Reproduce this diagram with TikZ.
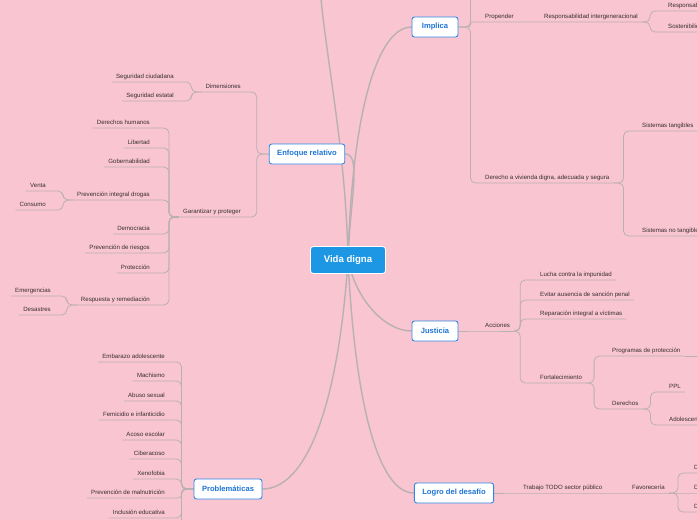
\documentclass[tikz,border=0pt]{standalone}
\usepackage{fontspec}
\setmainfont{Liberation Sans}
\definecolor{bgpink}{HTML}{F9C5D1}
\definecolor{lncol}{HTML}{B9B0B3}
\definecolor{txt}{HTML}{352E30}
\definecolor{boxblue}{HTML}{2F86E6}
\definecolor{boxtext}{HTML}{1C74D6}
\definecolor{vdblue}{HTML}{1D97E4}
\pgfdeclarelayer{back}
\pgfdeclarelayer{bg}
\pgfsetlayers{back,bg,main}
\tikzset{
  lbl/.style={font=\fontsize{6.1}{7}\selectfont, text=txt, inner xsep=4pt, inner ysep=3.2pt, text height=4.5pt, text depth=0pt},
  rc/.style={lbl, anchor=south west},
  lc/.style={lbl, anchor=south east},
  conn/.style={draw=lncol, line width=0.8pt, rounded corners=5pt},
  mconn/.style={draw=lncol, line width=1.4pt},
  box/.style={draw=boxblue, line width=0.9pt, fill=white, rounded corners=2.5pt, font=\bfseries\fontsize{7.6}{8}\selectfont, text=boxtext, minimum height=20pt, minimum width=46pt, inner xsep=8pt},
  vdbox/.style={draw=white, line width=0.8pt, fill=vdblue, rounded corners=3pt, font=\bfseries\fontsize{9.6}{10}\selectfont, text=white, minimum height=27pt, minimum width=75pt}
}
\begin{document}
\begin{tikzpicture}[x=1pt,y=-1pt]
\useasboundingbox (0,0) rectangle (697,520);
\begin{pgfonlayer}{back}
\fill[bgpink] (0,0) rectangle (697,520);
\end{pgfonlayer}

% ---------- central & main nodes
\node[vdbox] (vd) at (348,260) {Vida digna};
\node[box] (impl) at (435,27) {Implica};
\node[box] (enf) at (307,154) {Enfoque relativo};
\node[box] (jus) at (435,331) {Justicia};
\node[box] (prob) at (228,489) {Problemáticas};
\node[box] (log) at (454,493) {Logro del desafío};
\coordinate (topc) at (320,-12);

% ---------- Implica
\node[rc] (prop) at (481,22) {Propender};
\node[rc] (rint) at (540,22) {Responsabilidad intergeneracional};
\node[rc] (resp) at (664,11) {Responsabilidad};
\node[rc] (sost) at (664,32) {Sostenibilidad};
\node[rc] (viv) at (481,183) {Derecho a vivienda digna, adecuada y segura};
\node[rc] (stan) at (638,131) {Sistemas tangibles};
\node[rc] (snt) at (638,236) {Sistemas no tangibles};
\coordinate (implup) at (490,-20);

% ---------- Justicia
\node[rc] (acc) at (481,331) {Acciones};
\node[rc] (luc) at (536,280) {Lucha contra la impunidad};
\node[rc] (evi) at (536,300) {Evitar ausencia de sanción penal};
\node[rc] (rep) at (536,319) {Reparación integral a víctimas};
\node[rc] (fort) at (536,383) {Fortalecimiento};
\node[rc] (prog) at (608,356) {Programas de protección};
\node[rc] (der) at (608,409) {Derechos};
\node[rc] (ppl) at (665,392) {PPL};
\node[rc] (ado) at (665,425) {Adolescentes};
\coordinate (progr) at (720,356);

% ---------- Logro
\node[rc] (trab) at (519,493) {Trabajo TODO sector público};
\node[rc] (fav) at (628,493) {Favorecería};
\node[rc] (da) at (690,473) {D};
\node[rc] (db) at (690,493) {D};
\node[rc] (dc) at (690,512) {D};

% ---------- Enfoque relativo
\node[lc] (dim) at (245,92) {Dimensiones};
\node[lc] (sc) at (178,82) {Seguridad ciudadana};
\node[lc] (sest) at (178,101) {Seguridad estatal};
\node[lc] (gar) at (245,217) {Garantizar y proteger};
\node[lc] (dh) at (154,128) {Derechos humanos};
\node[lc] (lib) at (154,148) {Libertad};
\node[lc] (gob) at (154,167) {Gobernabilidad};
\node[lc] (pid) at (154,200) {Prevención integral drogas};
\node[lc] (dem) at (154,234) {Democracia};
\node[lc] (prr) at (154,253) {Prevención de riesgos};
\node[lc] (prot) at (154,273) {Protección};
\node[lc] (rr) at (154,305) {Respuesta y remediación};
\node[lc] (venta) at (50,191) {Venta};
\node[lc] (cons) at (50,210) {Consumo};
\node[lc] (emer) at (55,296) {Emergencias};
\node[lc] (desa) at (55,315) {Desastres};

% ---------- Problemáticas
\node[lc] (emb) at (169,362) {Embarazo adolescente};
\node[lc] (mach) at (169,381) {Machismo};
\node[lc] (abu) at (169,401) {Abuso sexual};
\node[lc] (fem) at (169,420) {Femicidio e infanticidio};
\node[lc] (aco) at (169,440) {Acoso escolar};
\node[lc] (cib) at (169,459) {Ciberacoso};
\node[lc] (xen) at (169,479) {Xenofobia};
\node[lc] (mal) at (169,498) {Prevención de malnutrición};
\node[lc] (inc) at (169,518) {Inclusión educativa};
\coordinate (probdn) at (150,545);

\begin{pgfonlayer}{bg}
% main connectors
\draw[mconn] (vd.center) .. controls (346,150) and (326,60) .. (topc);
\draw[mconn] (vd.center) .. controls (352,110) and (378,27) .. (impl.west);
\draw[mconn] (vd.center) .. controls (350,200) and (362,154) .. (enf.east);
\draw[mconn] (vd.center) .. controls (356,300) and (385,331) .. (jus.west);
\draw[mconn] (vd.center) .. controls (338,410) and (305,489) .. (prob.east);
\draw[mconn] (vd.center) .. controls (356,420) and (382,493) .. (log.west);

% Implica
\draw[conn] (impl.east) -- ++(12,0) |- (implup);
\draw[conn, rounded corners=2.5pt] (impl.east) -- ++(12,0) |- (prop.south west) -- (prop.south east) -- (rint.south west) -- (rint.south east);
\draw[conn] (impl.east) -- ++(12,0) |- (viv.south west) -- (viv.south east);
\foreach \c in {resp,sost}
  \draw[conn] (rint.south east) -- ++(8,0) |- (\c.south west) -- (\c.south east);
\foreach \c in {stan,snt}
  \draw[conn] (viv.south east) -- ++(10,0) |- (\c.south west) -- (\c.south east);

% Justicia
\draw[conn] (jus.east) -- (acc.south west) -- (acc.south east);
\foreach \c in {luc,evi,rep,fort}
  \draw[conn] (acc.south east) -- ++(6,0) |- (\c.south west) -- (\c.south east);
\foreach \c in {prog,der}
  \draw[conn] (fort.south east) -- ++(8,0) |- (\c.south west) -- (\c.south east);
\draw[conn] (prog.south east) -- (progr);
\foreach \c in {ppl,ado}
  \draw[conn] (der.south east) -- ++(8,0) |- (\c.south west) -- (\c.south east);

% Logro
\draw[conn] (log.east) -- (trab.south west) -- (trab.south east) -- (fav.south west) -- (fav.south east) -- (db.south west) -- (db.south east);
\foreach \c in {da,dc}
  \draw[conn] (fav.south east) -- ++(9,0) |- (\c.south west) -- (\c.south east);

% Enfoque relativo
\foreach \c in {dim,gar}
  \draw[conn] (enf.west) -- ++(-12,0) |- (\c.south east) -- (\c.south west);
\foreach \c in {sc,sest}
  \draw[conn] (dim.south west) -- ++(-10,0) |- (\c.south east) -- (\c.south west);
\foreach \c in {dh,lib,gob,pid,dem,prr,prot,rr}
  \draw[conn] (gar.south west) -- ++(-10,0) |- (\c.south east) -- (\c.south west);
\foreach \c in {venta,cons}
  \draw[conn] (pid.south west) -- ++(-10,0) |- (\c.south east) -- (\c.south west);
\foreach \c in {emer,desa}
  \draw[conn] (rr.south west) -- ++(-10,0) |- (\c.south east) -- (\c.south west);

% Problematicas
\foreach \c in {emb,mach,abu,fem,aco,cib,xen,inc}
  \draw[conn] (prob.west) -- ++(-12,0) |- (\c.south east) -- (\c.south west);
\draw[conn, rounded corners=3.5pt] (prob.west) -- ++(-12,0) |- (mal.south east) -- (mal.south west);
\draw[conn] (prob.west) -- ++(-12,0) |- (probdn);
\end{pgfonlayer}
\end{tikzpicture}
\end{document}
